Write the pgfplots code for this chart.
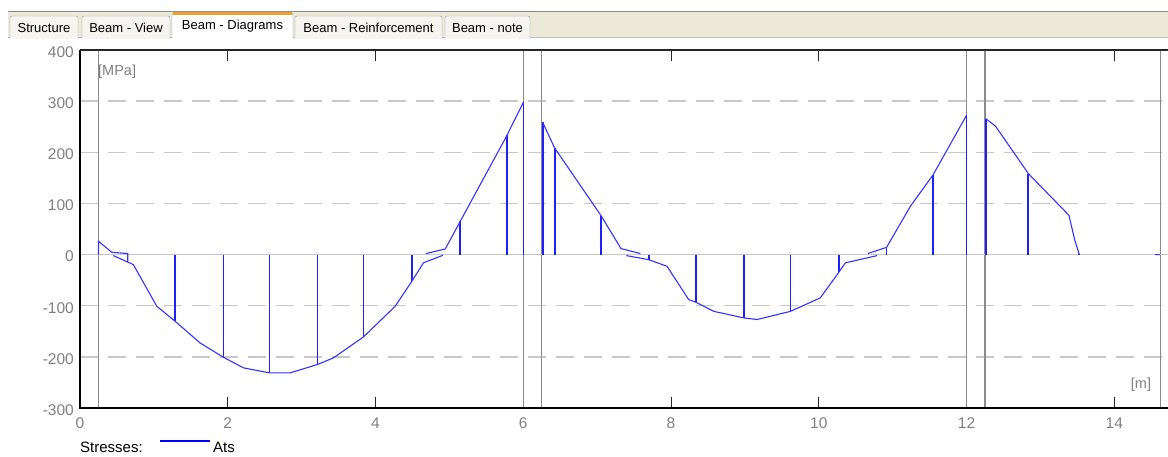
\documentclass[border=0pt]{standalone}
\usepackage{fontspec}
\setmainfont{Liberation Sans}
\usepackage{pgfplots}
\pgfplotsset{compat=1.18}
\definecolor{tabbg}{HTML}{ECE9D8}
\definecolor{tabfill}{HTML}{F5F4EF}
\definecolor{tabborder}{HTML}{919B9C}
\definecolor{taborange}{HTML}{F0A030}
\definecolor{gridc}{HTML}{C8C8C8}
\definecolor{suppc}{HTML}{8C8C8C}
\definecolor{labc}{HTML}{808080}
\definecolor{curvec}{HTML}{3434FF}
\definecolor{hatchc}{HTML}{1E1EFF}
\begin{document}
\begin{tikzpicture}[x=1pt,y=1pt]
\useasboundingbox (0,0) rectangle (1168,457);
\fill[white] (0,0) rectangle (1168,457);
% tab strip
\fill[tabbg] (8,419) rectangle (1168,445);
\draw[gray!90, line width=1pt] (8,445) -- (1168,445);
\draw[gray!50, line width=1pt] (8,419) -- (1168,419);
\foreach \a/\b/\t in {10/78/Structure, 82/170/{Beam - View}, 295/442/{Beam - Reinforcement}, 445/530/{Beam - note}} {
  \draw[tabborder, fill=tabfill, rounded corners=2pt] (\a,418) -- (\a,441) -- (\b,441) -- (\b,418);
  \node[font=\fontsize{13}{15}\selectfont, inner sep=0pt] at ({(\a+\b)/2},429) {\t};
}
\draw[tabborder, fill=white, rounded corners=2pt] (172,418) -- (172,444) -- (293,444) -- (293,418);
\fill[taborange] (173,442) rectangle (292,445);
\node[font=\fontsize{13}{15}\selectfont, inner sep=0pt] at (232.5,431) {Beam - Diagrams};

\begin{axis}[
  at={(80pt,49pt)}, anchor=south west,
  width=1088pt, height=358pt, scale only axis,
  xmin=0, xmax=14.727, ymin=-300, ymax=400,
  axis line style={draw=none},
  xtick={0,2,...,14}, ytick={-300,-200,...,400},
  tick align=inside, major tick length=11pt,
  xtick style={black!85, line width=1pt},
  ytick style={draw=none},
  ymajorgrids,
  grid style={gridc, line width=1.3pt, dash pattern=on 18pt off 10pt},
  extra x ticks={0.25,6,6.25,12,12.25,14.63},
  extra x tick labels={},
  extra x tick style={major tick length=0pt, grid=major, major grid style={suppc, solid, line width=1.2pt}},
  /pgf/number format/assume math mode=true,
  ticklabel style={font=\fontsize{15.5}{18}\selectfont, text=labc, inner sep=0pt},
  xticklabel style={anchor=north, yshift=-9.5pt},
  yticklabel style={anchor=east, xshift=-6pt, yshift=-2pt},
  unbounded coords=jump,
  clip=false,
]
\draw[gridc, line width=1.3pt] (axis cs:0,0) -- (axis cs:14.727,0);

\addplot[hatchc, line width=1.8pt, ycomb, mark=none] coordinates {
(1.287,-130.4) (1.941,-200.8) (2.564,-231.3) (3.214,-215) (3.837,-161) (4.493,-52)
(5.147,65) (5.779,233) (6.004,298.6) (6.262,258.7) (6.424,208.6) (7.053,76)
(7.697,-10) (8.339,-93.3) (8.984,-123.8) (9.617,-111) (10.271,-34.6) (10.917,14)
(11.549,156.4) (12.0,272.4) (12.258,266) (12.836,158.4) (13.522,2)
};

\addplot[curvec, line width=1.1pt, mark=none] coordinates {
(0.25,0) (0.25,26) (0.43,4.5) (0.646,2) (0.646,-13)
(0.7,nan)
(0.451,-2) (0.722,-19.6) (1.039,-101) (1.287,-130.4) (1.625,-172.7) (1.941,-200.8)
(2.212,-221.5) (2.564,-231.3) (2.844,-231.3) (3.214,-215) (3.431,-202) (3.837,-161)
(4.267,-101) (4.493,-52) (4.65,-16) (4.913,-1.4)
(4.9,nan)
(4.686,2) (4.944,11) (5.147,65) (5.779,233) (6.004,298.6)
(6.1,nan)
(6.262,258.7) (6.424,208.6) (7.053,76) (7.323,11.7) (7.585,2)
(7.5,nan)
(7.395,-2) (7.697,-10) (7.946,-22.9) (8.239,-88) (8.339,-93.3) (8.578,-111)
(8.984,-123.8) (9.165,-127) (9.617,-111) (10.02,-84.7) (10.271,-34.6) (10.36,-16.2) (10.79,-2)
(10.7,nan)
(10.663,2) (10.917,14) (11.24,94.4) (11.549,156.4) (12.0,272.4)
(12.1,nan)
(12.258,266) (12.393,251) (12.836,158.4) (13.386,76.8) (13.463,29.3) (13.522,2) (13.53,0)
(14.0,nan)
(14.55,0) (14.62,0)
};

\draw[black, line width=1.3pt] (rel axis cs:0,1) -- (rel axis cs:0,0) -- (rel axis cs:1,0);
\draw[black!85, line width=1.2pt] (rel axis cs:0,1) -- (rel axis cs:1,1);
\end{axis}

\node[anchor=west, inner sep=0pt, text=labc, font=\fontsize{14.5}{17}\selectfont] at (98,385) {[MPa]};
\node[inner sep=0pt, text=labc, font=\fontsize{14.5}{17}\selectfont] at (1141,72) {[m]};
\node[anchor=west, inner sep=0pt, font=\fontsize{15}{18}\selectfont] at (80,10) {Stresses:};
\draw[blue, line width=2.5pt] (160,16) -- (210,16);
\node[anchor=west, inner sep=0pt, font=\fontsize{15}{18}\selectfont] at (213,10) {Ats};
\end{tikzpicture}
\end{document}
